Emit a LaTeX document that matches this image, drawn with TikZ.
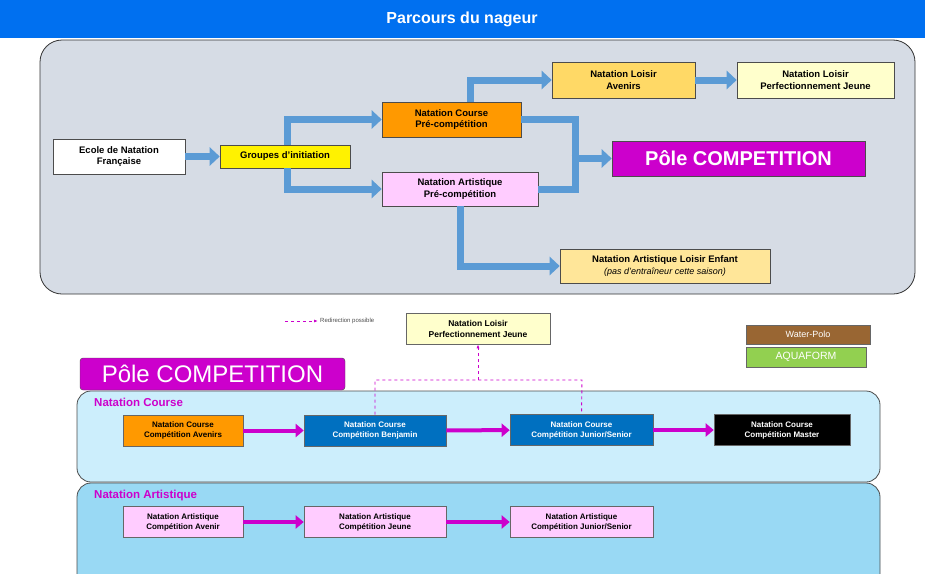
\documentclass[tikz,border=0pt]{standalone}
\usepackage{fontspec}
\setmainfont{Liberation Sans}
\usetikzlibrary{arrows.meta}
\definecolor{tb}{HTML}{0070F0}
\definecolor{pan}{HTML}{D6DCE5}
\definecolor{ab}{HTML}{5B9BD5}
\definecolor{mag}{HTML}{CC00CC}
\definecolor{lc}{HTML}{CCEEFC}
\definecolor{la}{HTML}{99D9F4}
\begin{document}
\begin{tikzpicture}[x=1pt,y=-1pt,
 bx/.style={draw=black!70,line width=0.6pt,align=center,font=\bfseries\fontsize{9.5}{11.5}\selectfont,inner sep=1pt},
 sb/.style={draw=black!60,line width=0.6pt,align=center,font=\bfseries\fontsize{8}{10}\selectfont,inner sep=1pt},
 ba/.style={line width=7pt,draw=ab,-{Triangle[length=10pt,width=18pt]}},
 bl/.style={line width=7pt,draw=ab},
 ma/.style={line width=4pt,draw=mag,-{Triangle[length=8pt,width=13pt]}},
 da/.style={draw=mag,dashed,line width=0.9pt}]
\useasboundingbox (0,0) rectangle (925,573);
\fill[tb] (0,0) rectangle (925,38);
\node[text=white,font=\bfseries\fontsize{16}{18}\selectfont] (title) at (462,19) {Parcours du nageur};
\draw[fill=pan,draw=black!80,line width=0.8pt,rounded corners=22pt] (40,40) rectangle (915,294);
% top nodes
\node[bx,fill=white,minimum width=132,minimum height=35] (ecole) at (119,156.5) {Ecole de Natation\\Française};
\node[bx,fill=yellow,minimum width=130,minimum height=23] (grp) at (285,156.5) {Groupes d'initiation};
\node[bx,fill={rgb,255:red,255;green,153;blue,0},minimum width=139,minimum height=35] (ncp) at (451.5,119.5) {Natation Course\\Pré-compétition};
\node[bx,fill={rgb,255:red,255;green,204;blue,255},minimum width=156,minimum height=34] (nap) at (460,189) {Natation Artistique\\Pré-compétition};
\node[bx,fill={rgb,255:red,255;green,217;blue,102},minimum width=143,minimum height=36] (nla) at (623.5,80) {Natation Loisir\\Avenirs};
\node[bx,fill={rgb,255:red,255;green,255;blue,204},minimum width=157,minimum height=36] (nlp) at (815.5,80) {Natation Loisir\\Perfectionnement Jeune};
\node[bx,fill=mag,text=white,font=\bfseries\fontsize{20}{22}\selectfont,minimum width=253,minimum height=35] (pole) at (738.5,158.5) {Pôle COMPETITION};
\node[bx,fill={rgb,255:red,255;green,230;blue,153},minimum width=210,minimum height=34] (nle) at (665,266) {Natation Artistique Loisir Enfant\\{\mdseries\itshape\fontsize{9}{11}\selectfont (pas d'entraîneur cette saison)}};
% blue arrows
\draw[ba] (ecole.east) -- (grp.west);
\draw[ba] (287,145) |- (ncp.west);
\draw[ba] (287,168) |- (nap.west);
\draw[ba] (470,102) |- (nla.west);
\draw[ba] (nla.east) -- (nlp.west);
\draw[bl] (ncp.east) -| (575,158.5);
\draw[bl] (nap.east) -| (575,158.5);
\draw[ba] (571.5,158.5) -- (pole.west);
\draw[ba] (460,206) |- (nle.west);
% bottom
\coordinate (lg1) at (285,321); \coordinate (lg2) at (318,321);
\draw[da,-{Latex[length=4pt]}] (lg1) -- (lg2);
\node[anchor=west,font=\fontsize{6}{7}\selectfont,text=black!70,inner sep=1pt] (lgt) at (319,321) {Redirection possible};
\node[sb,fill={rgb,255:red,255;green,255;blue,204},minimum width=144,minimum height=31,font=\bfseries\fontsize{8.5}{11}\selectfont] (nlp2) at (478,328.5) {Natation Loisir\\Perfectionnement Jeune};
\node[sb,fill={rgb,255:red,153;green,102;blue,51},text=white,minimum width=124,minimum height=19,font=\fontsize{9}{10}\selectfont] (wp) at (808,334.5) {Water-Polo};
\node[sb,fill={rgb,255:red,146;green,208;blue,80},text=white,minimum width=120,minimum height=20,font=\fontsize{10.5}{11}\selectfont] (aq) at (806,357) {AQUAFORM};
\draw[fill=la,draw=black!70,line width=0.8pt,rounded corners=14pt] (77,483) rectangle (880,590);
\draw[fill=lc,draw=black!70,line width=0.8pt,rounded corners=14pt] (77,391) rectangle (880,482);
\node[draw=black!70,fill=mag,rounded corners=3pt,text=white,font=\fontsize{24}{26}\selectfont,minimum width=265,minimum height=32,inner sep=0pt] (pc) at (212.5,374) {Pôle COMPETITION};
\node[anchor=west,text=mag,font=\bfseries\fontsize{11.5}{13}\selectfont,inner sep=0pt] (tc) at (94,402) {Natation Course};
\node[anchor=west,text=mag,font=\bfseries\fontsize{11.5}{13}\selectfont,inner sep=0pt] (ta) at (94,496) {Natation Artistique};
\node[sb,fill={rgb,255:red,255;green,153;blue,0},minimum width=120,minimum height=31] (c1) at (183,430.5) {Natation Course\\Compétition Avenirs};
\node[sb,fill={rgb,255:red,0;green,112;blue,192},text=white,minimum width=142,minimum height=31] (c2) at (375,430.5) {Natation Course\\Compétition Benjamin};
\node[sb,fill={rgb,255:red,0;green,112;blue,192},text=white,minimum width=143,minimum height=31] (c3) at (581.5,430) {Natation Course\\Compétition Junior/Senior};
\node[sb,fill=black,text=white,minimum width=136,minimum height=31] (c4) at (782,430) {Natation Course\\Compétition Master};
\node[sb,fill={rgb,255:red,255;green,204;blue,255},minimum width=120,minimum height=31] (a1) at (183,522) {Natation Artistique\\Compétition Avenir};
\node[sb,fill={rgb,255:red,255;green,204;blue,255},minimum width=142,minimum height=31] (a2) at (375,522) {Natation Artistique\\Compétition Jeune};
\node[sb,fill={rgb,255:red,255;green,204;blue,255},minimum width=143,minimum height=31] (a3) at (581.5,522) {Natation Artistique\\Compétition Junior/Senior};
\draw[ma] (c1) -- (c2);
\draw[ma] (c2) -- (c3);
\draw[ma] (c3) -- (c4);
\draw[ma] (a1) -- (a2);
\draw[ma] (a2) -- (a3);
\draw[da] (c2.north) -- (375,380) -- (582,380) -- (c3.north);
\draw[da,-{Latex[length=4pt]}] (478,380) -- (nlp2.south);
\end{tikzpicture}
\end{document}
